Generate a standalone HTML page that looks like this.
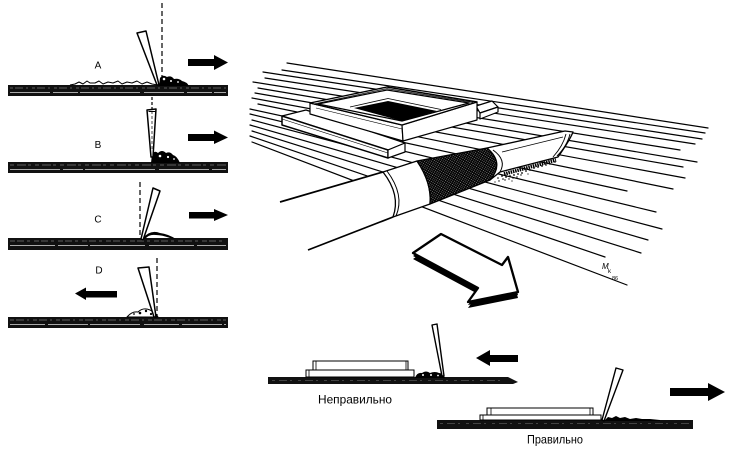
<!DOCTYPE html>
<html><head><meta charset="utf-8"><style>
html,body{margin:0;padding:0;background:#fff;}
svg{display:block;}
</style></head><body>
<svg width="730" height="450" viewBox="0 0 730 450" xmlns="http://www.w3.org/2000/svg" font-family="'Liberation Sans', 'DejaVu Sans', sans-serif">
<defs>
<pattern id="mesh" width="2.8" height="2.8" patternUnits="userSpaceOnUse" patternTransform="rotate(-15)">
<rect width="2.8" height="2.8" fill="#fff"/>
<path d="M0,0 L2.8,2.8 M2.8,0 L0,2.8" stroke="#000" stroke-width="1.35"/>
</pattern>
</defs>
<rect width="730" height="450" fill="#fff"/>

<!-- ================= LEFT PANELS ================= -->
<g stroke-linejoin="round">
<!-- Panel A -->
<rect x="8" y="85" width="220" height="11" fill="#111"/>
<line x1="10" y1="88" x2="226" y2="88" stroke="#777" stroke-width="0.7" stroke-dasharray="3 2 8 3 2 4"/>
<line x1="10" y1="92.5" x2="226" y2="92.5" stroke="#ddd" stroke-width="0.7" stroke-dasharray="40 3 25 2 60 4"/>
<path d="M70,85 L75,84 L79,82 L83,84 L87,81 L90,83 L95,83 L99,81 L103,84 L108,82 L113,83 L118,81 L122,84 L127,82 L132,83 L137,81 L142,84 L147,82 L152,84 L158,85" fill="none" stroke="#000" stroke-width="1"/>
<path d="M159,86 L160,78 Q163,74 167,77 Q171,75 174,79 Q179,78 182,81 Q187,82 189,86 Z" fill="#000"/>
<circle cx="164" cy="79" r="1.3" fill="#fff"/><circle cx="171" cy="81" r="1" fill="#fff"/><circle cx="178" cy="82" r="0.9" fill="#fff"/>
<line x1="162" y1="3" x2="162" y2="85" stroke="#000" stroke-width="1.2" stroke-dasharray="5 3"/>
<polygon points="137,33 146,31 159,85 157,85" fill="#fff" stroke="#000" stroke-width="1.5"/>
<text x="98" y="68.5" font-size="10" text-anchor="middle">A</text>
<polygon points="188,59 214,59 214,55 228,62.5 214,70 214,66 188,66" fill="#000"/>

<!-- Panel B -->
<rect x="8" y="162" width="220" height="11" fill="#111"/>
<line x1="10" y1="165" x2="226" y2="165" stroke="#777" stroke-width="0.7" stroke-dasharray="4 3 9 2 3 4"/>
<line x1="10" y1="169.5" x2="226" y2="169.5" stroke="#ddd" stroke-width="0.7" stroke-dasharray="50 3 20 2 70 4"/>
<path d="M151,163 L152,154 Q155,150 158,153 Q162,149 166,153 Q170,151 173,155 Q177,156 180,163 Z" fill="#000"/>
<circle cx="160" cy="156" r="1.3" fill="#fff"/><circle cx="168" cy="157" r="1.1" fill="#fff"/><circle cx="174" cy="159" r="0.9" fill="#fff"/>
<line x1="152" y1="97" x2="152" y2="110" stroke="#000" stroke-width="1.2" stroke-dasharray="3 2"/>
<polygon points="147,110 156,109 153,157 151,157" fill="#fff" stroke="#000" stroke-width="1.5"/>
<line x1="152" y1="111" x2="152" y2="150" stroke="#000" stroke-width="0.7" stroke-dasharray="3 2"/>
<line x1="148.5" y1="111.5" x2="155.5" y2="111.5" stroke="#000" stroke-width="1"/>
<text x="98" y="148" font-size="10" text-anchor="middle">B</text>
<polygon points="188,134 214,134 214,130.5 228,137.5 214,144 214,141 188,141" fill="#000"/>

<!-- Panel C -->
<rect x="8" y="238" width="220" height="12" fill="#111"/>
<line x1="10" y1="241" x2="226" y2="241" stroke="#777" stroke-width="0.7" stroke-dasharray="5 2 7 3 3 4"/>
<line x1="10" y1="245.5" x2="226" y2="245.5" stroke="#ddd" stroke-width="0.7" stroke-dasharray="45 3 30 2 55 4"/>
<path d="M142,239 Q150,229 160,233 Q168,234 176,239 L170,238 Q162,235 156,235 Q149,234 145,239 Z" fill="#000"/>
<line x1="140" y1="182" x2="140" y2="238" stroke="#000" stroke-width="1.2" stroke-dasharray="5 3"/>
<polygon points="153,188 160,191 143,240 141,239" fill="#fff" stroke="#000" stroke-width="1.5"/>
<text x="98" y="222.5" font-size="10" text-anchor="middle">C</text>
<polygon points="189,212 214,212 214,209 228,215 214,221 214,218.5 189,218.5" fill="#000"/>

<!-- Panel D -->
<rect x="8" y="317" width="220" height="11" fill="#111"/>
<line x1="10" y1="320" x2="226" y2="320" stroke="#777" stroke-width="0.7" stroke-dasharray="4 2 8 3 2 4"/>
<line x1="10" y1="324.5" x2="226" y2="324.5" stroke="#ddd" stroke-width="0.7" stroke-dasharray="35 3 40 2 50 4"/>
<path d="M127,317 Q132,311 138,312 Q143,307 150,310 Q155,312 158,317 Z" fill="#fff" stroke="#000" stroke-width="1"/>
<circle cx="140" cy="313" r="1.3" fill="#000"/><circle cx="146" cy="311" r="1.2" fill="#000"/><circle cx="151" cy="314" r="1.1" fill="#000"/><circle cx="134" cy="314" r="0.9" fill="#000"/>
<line x1="157" y1="258" x2="157" y2="317" stroke="#000" stroke-width="1.2" stroke-dasharray="5 3"/>
<polygon points="138,268 149,267 156,317 154,317" fill="#fff" stroke="#000" stroke-width="1.5"/>
<text x="99" y="273.5" font-size="10" text-anchor="middle">D</text>
<polygon points="117,291 86,291 86,287.5 75,293.5 86,300 86,297.5 117,297.5" fill="#000"/>
</g>

<!-- ================= 3D SCENE ================= -->
<g stroke="#000" stroke-width="1.2" stroke-linecap="round">
<line x1="287" y1="63" x2="708" y2="128"/>
<line x1="282" y1="70" x2="705" y2="133"/>
<line x1="263" y1="72" x2="702" y2="139"/>
<line x1="265" y1="78" x2="695" y2="144"/>
<line x1="253" y1="82" x2="680" y2="150"/>
<line x1="258" y1="88" x2="697" y2="162"/>
<line x1="255" y1="93" x2="683" y2="167"/>
<line x1="252" y1="98" x2="685" y2="178"/>
<line x1="258" y1="104" x2="673" y2="189"/>
<line x1="250" y1="109" x2="627" y2="191"/>
<line x1="250" y1="114" x2="656" y2="212"/>
<line x1="252" y1="120" x2="662" y2="229"/>
<line x1="250" y1="125" x2="648" y2="240"/>
<line x1="252" y1="131" x2="641" y2="253"/>
<line x1="250" y1="136" x2="605" y2="257"/>
<line x1="252" y1="142" x2="627" y2="285"/>
</g>

<!-- slab left piece -->
<g fill="#fff" stroke="#000" stroke-width="1.2" stroke-linejoin="round">
<polygon points="282,116 306,110 405,143 388,150"/>
<polygon points="282,116 388,150 388,158 282,125" stroke-width="1.5"/>
<polygon points="388,150 405,143 405,152 388,158"/>
<!-- small right slab -->
<polygon points="476,106 492,101 498,107 480,113"/>
<polygon points="480,113 498,107 498,112 480,119"/>
<!-- frame -->
<polygon points="310,103 402,125 403,141 310,114"/>
<polygon points="402,125 477,102 477,120 403,141"/>
<polygon points="310,103 387,87 477,102 402,125" stroke-width="1.4"/>
<polygon points="318,104 387,90 469,103 402,121"/>
</g>
<polyline points="314,104 387,88.6 473,102.5" fill="none" stroke="#000" stroke-width="0.7"/>
<polygon points="354,108 388,101 437,111 402,121" fill="#000"/>
<polyline points="350,107 388,98.5 441,109.5" fill="none" stroke="#000" stroke-width="0.8"/>
<line x1="316" y1="108" x2="402" y2="129" stroke="#000" stroke-width="0.6"/>
<line x1="282" y1="119" x2="388" y2="153" stroke="#000" stroke-width="0.6"/>

<!-- pipe -->
<polygon points="280,202 383,172 398,195 393,217 308,250" fill="#fff"/>
<line x1="280" y1="202" x2="383" y2="172" stroke="#000" stroke-width="1.7"/>
<line x1="308" y1="250" x2="393" y2="217" stroke="#000" stroke-width="1.7"/>
<path d="M383,172 L417,161 Q432,183 430,204 L393,217 Q401,195 383,172 Z" fill="#fff" stroke="#000" stroke-width="1.3" stroke-linejoin="round"/>
<path d="M387,171 Q405,195 396,216" fill="none" stroke="#000" stroke-width="1"/>
<path d="M417,161 L487,148 Q505,163 490,180 L430,204 Q432,183 417,161 Z" fill="url(#mesh)" stroke="#000" stroke-width="1.3" stroke-linejoin="round"/>
<!-- nozzle -->
<path d="M487,148 L565,131 L573,132 Q570,140 558,157 L500,172 L490,180 Q505,163 487,148 Z" fill="#fff" stroke="#000" stroke-width="1.3" stroke-linejoin="round"/>
<path d="M493,150 Q507,160 500,172" fill="none" stroke="#000" stroke-width="1"/>
<line x1="502" y1="152" x2="563" y2="137" stroke="#000" stroke-width="0.8"/>
<path d="M566,134 Q563,146 553,157" fill="none" stroke="#000" stroke-width="0.9"/>
<path d="M570,134 Q567,146 557,156" fill="none" stroke="#000" stroke-width="0.9"/>
<!-- dust -->
<line x1="504" y1="174" x2="556" y2="160" stroke="#000" stroke-width="3.5" stroke-dasharray="1.5 0.8"/>
<g fill="#000">
<circle cx="498" cy="178" r="0.8"/><circle cx="499" cy="181" r="0.7"/>
<circle cx="502" cy="176" r="0.9"/><circle cx="503" cy="179" r="0.8"/>
<circle cx="506" cy="177" r="0.9"/><circle cx="505" cy="180" r="0.7"/>
<circle cx="510" cy="176" r="0.9"/><circle cx="509" cy="179" r="0.7"/>
<circle cx="514" cy="175" r="0.9"/><circle cx="513" cy="178" r="0.7"/>
<circle cx="518" cy="174" r="0.9"/><circle cx="517" cy="177" r="0.7"/>
<circle cx="522" cy="173" r="0.9"/><circle cx="521" cy="175" r="0.7"/>
<circle cx="526" cy="171" r="0.9"/><circle cx="530" cy="170" r="0.9"/>
<circle cx="534" cy="168" r="0.9"/><circle cx="538" cy="167" r="0.9"/>
<circle cx="542" cy="166" r="0.9"/><circle cx="546" cy="165" r="0.8"/>
<circle cx="550" cy="164" r="0.8"/><circle cx="555" cy="162" r="0.8"/>
<circle cx="495" cy="182" r="0.6"/><circle cx="512" cy="181" r="0.6"/><circle cx="528" cy="174" r="0.6"/>
</g>

<!-- big hollow arrow -->
<g stroke-linejoin="round">
<polygon points="441,240 502,271 508,263 518,298 468,308 478,294 413,259" fill="#000"/>
<polygon points="441,237 502,268 508,260 518,295 468,305 478,291 413,256" fill="#000"/>
<polygon points="441,234 502,265 508,257 518,292 468,302 478,288 413,253" fill="#fff" stroke="#000" stroke-width="2.3"/>
</g>

<!-- signature -->
<text x="602" y="269" font-size="8" font-style="italic">M</text>
<text x="608" y="273" font-size="6">k</text>
<text x="612" y="280" font-size="5.5">86</text>

<!-- ================= BOTTOM PANELS ================= -->
<!-- Неправильно -->
<polygon points="268,377 508,377 518,382 513,384 268,384" fill="#111"/>
<line x1="272" y1="380.5" x2="505" y2="380.5" stroke="#777" stroke-width="0.6" stroke-dasharray="3 4 8 3 2 6"/>
<g fill="#fff" stroke="#000" stroke-width="1">
<rect x="306" y="370" width="108" height="7"/>
<rect x="313" y="361" width="95" height="9"/>
</g>
<g stroke="#000" stroke-width="0.8">
<line x1="309" y1="370" x2="309" y2="377"/>
<line x1="316" y1="361" x2="316" y2="370"/>
<line x1="406" y1="361" x2="406" y2="370"/>
</g>
<path d="M415,378 Q417,372 422,373 Q426,370 430,373 Q435,371 439,373 Q443,373 445,378 Z" fill="#000"/>
<circle cx="423" cy="375" r="1" fill="#fff"/><circle cx="431" cy="375" r="1" fill="#fff"/><circle cx="438" cy="375.5" r="0.9" fill="#fff"/>
<polygon points="432,325 437,324 444,376 442,376" fill="#fff" stroke="#000" stroke-width="1.4" stroke-linejoin="round"/>
<polygon points="518,355 490,355 490,350 476,358 490,366 490,362 518,362" fill="#000"/>
<text x="318" y="403.5" font-size="12" textLength="74" lengthAdjust="spacingAndGlyphs">Неправильно</text>

<!-- Правильно -->
<rect x="437" y="420" width="256" height="9" fill="#111"/>
<line x1="440" y1="423.5" x2="690" y2="423.5" stroke="#777" stroke-width="0.6" stroke-dasharray="3 4 8 3 2 6"/>
<g fill="#fff" stroke="#000" stroke-width="1">
<rect x="480" y="415" width="121" height="5"/>
<rect x="487" y="408" width="106" height="7"/>
</g>
<g stroke="#000" stroke-width="0.8">
<line x1="483" y1="415" x2="483" y2="420"/>
<line x1="491" y1="408" x2="491" y2="415"/>
<line x1="590" y1="408" x2="590" y2="415"/>
</g>
<path d="M604,421 L608,417 L612,418 L616,416 L620,418 L625,417 L630,419 L636,418 L642,419 L650,419 L660,420 L660,421 Z" fill="#000"/>
<polygon points="616,368 623,370 604,421 602,420" fill="#fff" stroke="#000" stroke-width="1.4" stroke-linejoin="round"/>
<polygon points="670,388 708,388 708,383 725,392 708,401 708,396 670,396" fill="#000"/>
<text x="527" y="443.5" font-size="12" textLength="56" lengthAdjust="spacingAndGlyphs">Правильно</text>
</svg>
</body></html>
